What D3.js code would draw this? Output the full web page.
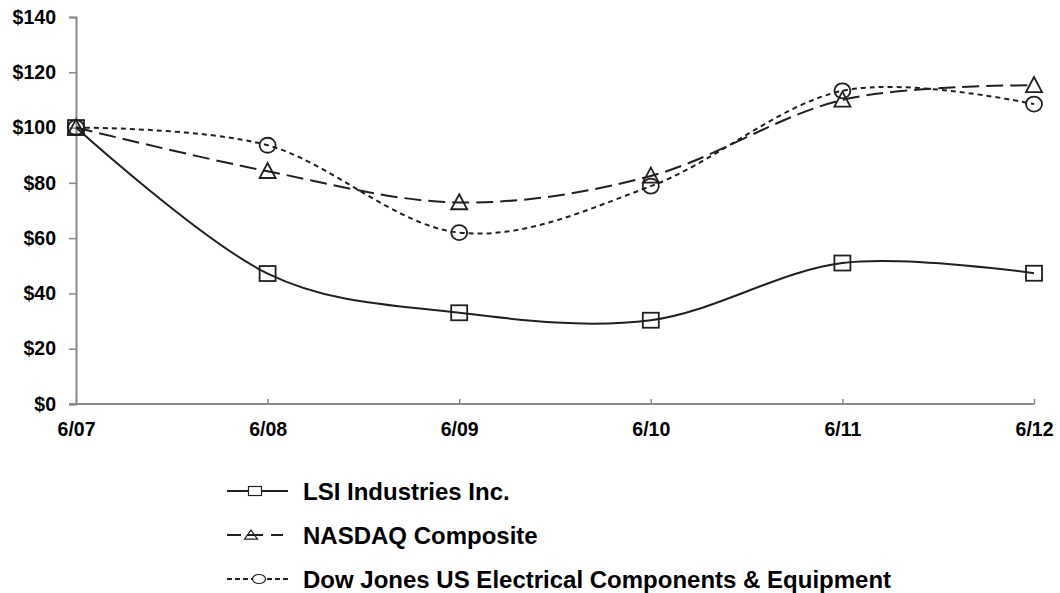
<!DOCTYPE html>
<html lang="en">
<head>
<meta charset="UTF-8">
<title>Cumulative total return</title>
<script src="https://d3js.org/d3.v7.min.js"></script>
<style>
  body { margin: 0; background: #fff; }
  text { font-family: "Liberation Sans", Arial, sans-serif; font-weight: bold; fill: #000; }
</style>
</head>
<body>
<div id="chart"></div>
<script>
// data
const periods = ["6/07", "6/08", "6/09", "6/10", "6/11", "6/12"];
const lsi    = [100, 47.2, 33.0, 30.3, 51.0, 47.3];
const nasdaq = [100, 84.2, 72.9, 82.5, 110.0, 115.3];
const dowjones = [100, 93.6, 62.0, 78.8, 113.3, 108.5];
const yTicks = [0, 20, 40, 60, 80, 100, 120, 140];
const seriesNames = ["LSI Industries Inc.", "NASDAQ Composite", "Dow Jones US Electrical Components & Equipment"];

const width = 1060, height = 593;
const margin = {top: 17, right: 26, bottom: 189, left: 76};

const svg = d3.select("#chart").append("svg")
    .attr("width", width).attr("height", height);

const x = d3.scalePoint().domain(periods).range([margin.left, width - margin.right]);
const y = d3.scaleLinear().domain([0, 140]).range([height - margin.bottom, margin.top]);

const axisColor = "#8a8a8e";

// y axis
const yAxis = svg.append("g")
    .attr("transform", `translate(${margin.left},0)`)
    .call(d3.axisLeft(y).tickValues(yTicks).tickSize(7).tickPadding(13).tickFormat(d => "$" + d));
yAxis.select(".domain").attr("stroke", axisColor).attr("stroke-width", 2);
yAxis.selectAll(".tick line").attr("stroke", axisColor).attr("stroke-width", 1.5);
yAxis.selectAll("text").style("font-size", "19.5px");

// x axis (ticks point up into the plot)
const xAxis = svg.append("g")
    .attr("transform", `translate(0,${y(0)})`)
    .call(d3.axisBottom(x).tickSize(-5).tickSizeOuter(0).tickPadding(18));
xAxis.select(".domain").attr("stroke", axisColor).attr("stroke-width", 2)
    .attr("d", `M${margin.left - 7},0H${width - margin.right}`);
xAxis.selectAll(".tick line").attr("stroke", axisColor).attr("stroke-width", 1.5);
xAxis.selectAll("text").style("font-size", "19.5px");

const series = [
  {name: seriesNames[0], values: lsi, dash: null, legendDash: null, marker: "square"},
  {name: seriesNames[1], values: nasdaq, dash: "17,7", legendDash: "14,6,16,8,12,10", marker: "triangle"},
  {name: seriesNames[2], values: dowjones, dash: "5,4", legendDash: "5,3", marker: "circle"}
];

const line = d3.line()
    .curve(d3.curveCardinal.tension(0))
    .x((d, i) => x(periods[i]))
    .y(d => y(d));

function drawMarker(g, type, cx, cy, w, h) {
  if (type === "square") {
    g.append("rect").attr("x", cx - w / 2).attr("y", cy - h / 2)
      .attr("width", w).attr("height", h);
  } else if (type === "triangle") {
    g.append("path").attr("d", `M${cx},${cy - h * 0.55}L${cx + w / 2},${cy + h * 0.45}L${cx - w / 2},${cy + h * 0.45}Z`);
  } else {
    g.append("ellipse").attr("cx", cx).attr("cy", cy).attr("rx", w / 2).attr("ry", h / 2);
  }
}

const plot = svg.append("g");
series.forEach(s => {
  plot.append("path")
    .datum(s.values)
    .attr("fill", "none")
    .attr("stroke", "#231f20")
    .attr("stroke-width", 2)
    .attr("stroke-dasharray", s.dash)
    .attr("d", line);
});
series.forEach(s => {
  const mg = plot.append("g").attr("fill", "none").attr("stroke", "#231f20").attr("stroke-width", 1.8);
  s.values.forEach((v, i) => drawMarker(mg, s.marker, x(periods[i]), y(v), 16, 15));
});

// legend
const legend = svg.append("g");
const legendY = [491, 535, 579];
const legendMarkerX = [255, 251, 259];
series.forEach((s, i) => {
  const ly = legendY[i];
  legend.append("line")
    .attr("x1", 227).attr("x2", 288).attr("y1", ly).attr("y2", ly)
    .attr("stroke", "#231f20").attr("stroke-width", 2)
    .attr("stroke-dasharray", s.legendDash);
  const mg = legend.append("g").attr("fill", s.marker === "triangle" ? "none" : "#fff")
    .attr("stroke", "#231f20").attr("stroke-width", 1.2);
  drawMarker(mg, s.marker, legendMarkerX[i], ly, 13, 9);
  legend.append("text")
    .attr("x", 303).attr("y", ly + 8.5)
    .style("font-size", "24px")
    .text(s.name);
});
</script>
</body>
</html>
